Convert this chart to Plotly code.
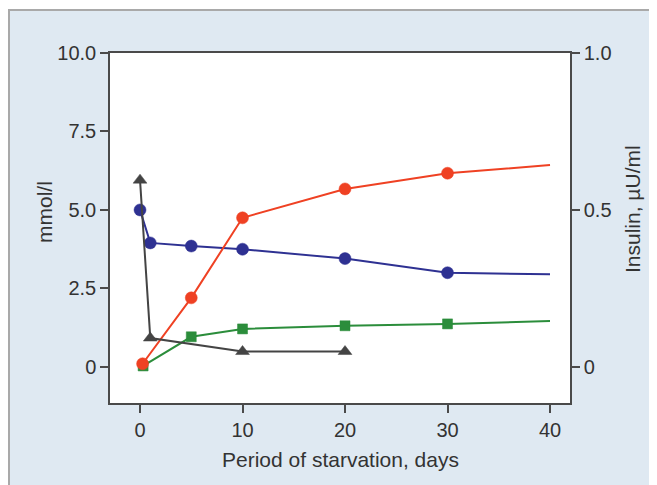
import plotly.graph_objects as go

# Data
glucose_days = [0, 1, 5, 10, 20, 30, 40]
glucose = [5.0, 3.95, 3.85, 3.75, 3.45, 3.0, 2.95]

orange_days = [0.25, 5, 10, 20, 30, 40]
orange_vals = [0.1, 2.2, 4.75, 5.67, 6.17, 6.43]

green_days = [0.3, 5, 10, 20, 30, 40]
green_vals = [0.03, 0.96, 1.21, 1.31, 1.37, 1.46]

insulin_days = [0, 1, 10, 20]
insulin = [0.595, 0.092, 0.049, 0.049]

x_ticks = [0, 10, 20, 30, 40]
y_tickvals = [0, 2.5, 5.0, 7.5, 10.0]
y_ticktext = ["0", "2.5", "5.0", "7.5", "10.0"]
y2_tickvals = [0, 0.5, 1.0]
y2_ticktext = ["0", "0.5", "1.0"]

x_title = "Period of starvation, days"
y_title = "mmol/l"
y2_title = "Insulin, µU/ml"

FONT = "Liberation Sans, Arial, sans-serif"
TXT = "#333333"
AX = "#4a4a4a"


def series(x, y, color, symbol, size, last_marker=True, yaxis="y"):
    sizes = [size] * len(x)
    if not last_marker:
        sizes[-1] = 0
    return go.Scatter(
        x=x, y=y, mode="lines+markers", yaxis=yaxis,
        line=dict(color=color, width=2),
        marker=dict(symbol=symbol, size=sizes, color=color, opacity=1,
                    line=dict(width=0.5, color=color)),
        showlegend=False, cliponaxis=False)


fig = go.Figure()
fig.add_trace(series(green_days, green_vals, "#2b8d3b", "square", 10, last_marker=False))
fig.add_trace(series(glucose_days, glucose, "#2e3192", "circle", 12, last_marker=False))
fig.add_trace(series(orange_days, orange_vals, "#ef4123", "circle", 12, last_marker=False))
fig.add_trace(series(insulin_days, insulin, "#444444", "triangle-up", 12, yaxis="y2"))

# page has an 8px body margin; work in page pixels and convert
OFF = 8
PW, PH = 657, 485
W, H = PW - OFF, PH - OFF
L, R, T, B = 110 - OFF, PW - 570, 53 - OFF, PH - 403
pw, ph = W - L - R, H - T - B


def px_x(p):
    return (p - OFF - L) / pw


def px_y(p):
    return (H - B - (p - OFF)) / ph


fig.update_layout(
    width=W, height=H,
    margin=dict(l=L, r=R, t=T, b=B, pad=0),
    paper_bgcolor="white",
    plot_bgcolor="white",
    font=dict(family=FONT, size=20, color=TXT),
    xaxis=dict(range=[-2.93, 41.95], tickvals=x_ticks, showgrid=False, zeroline=False,
               showline=True, linecolor=AX, linewidth=1.5, mirror=True,
               ticks="outside", ticklen=8, tickcolor=AX, tickwidth=1.5,
               tickfont=dict(size=20, color=TXT)),
    yaxis=dict(range=[-1.15, 10.0], tickvals=y_tickvals, ticktext=y_ticktext,
               showgrid=False, zeroline=False,
               showline=True, linecolor=AX, linewidth=1.5,
               ticks="outside", ticklen=8, tickcolor=AX, tickwidth=1.5,
               tickfont=dict(size=20, color=TXT)),
    yaxis2=dict(range=[-0.115, 1.0], tickvals=y2_tickvals, ticktext=y2_ticktext,
                overlaying="y", side="right", showgrid=False, zeroline=False,
                showline=True, linecolor=AX, linewidth=1.5,
                ticks="outside", ticklen=8, tickcolor=AX, tickwidth=1.5,
                tickfont=dict(size=20, color=TXT)),
    shapes=[
        dict(type="rect", xref="paper", yref="paper", layer="below",
             x0=px_x(9), x1=px_x(PW + 10), y0=px_y(PH + 10), y1=px_y(10),
             fillcolor="#dfe9f2", line=dict(color="#a9a9a9", width=2)),
        dict(type="rect", xref="paper", yref="paper", layer="below",
             x0=0, x1=1, y0=0, y1=1, fillcolor="white", line=dict(width=0)),
    ],
    annotations=[
        dict(text=x_title, xref="paper", yref="paper", x=px_x(340), y=px_y(459),
             xanchor="center", yanchor="middle", showarrow=False,
             font=dict(size=21, color=TXT)),
        dict(text=y_title, xref="paper", yref="paper", x=px_x(44), y=px_y(212),
             xanchor="center", yanchor="middle", showarrow=False, textangle=-90,
             font=dict(size=21, color=TXT)),
        dict(text=y2_title, xref="paper", yref="paper", x=px_x(632), y=px_y(209),
             xanchor="center", yanchor="middle", showarrow=False, textangle=-90,
             font=dict(size=21, color=TXT)),
    ],
)

fig.write_html("out.html")
